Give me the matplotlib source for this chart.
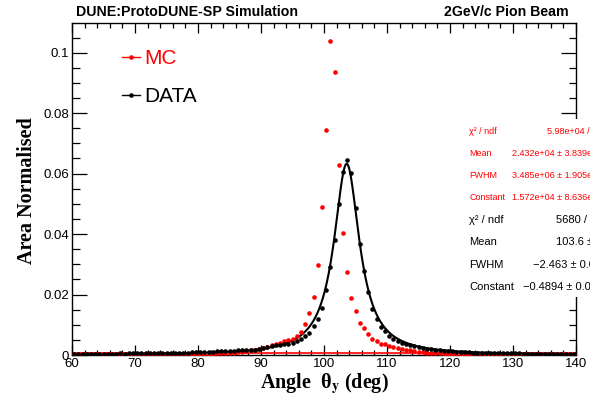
import numpy as np
import matplotlib
matplotlib.use("Agg")
import matplotlib.pyplot as plt
from matplotlib.lines import Line2D
from matplotlib.patches import Rectangle
from matplotlib.ticker import MultipleLocator, FuncFormatter

# histogram: 120 bins between 60 and 140 deg
bin_lo, bin_hi, n_bins = 60, 140, 120

mc_vals = [
    0.0002, 0.0002, 0.0002, 0.0002, 0.0002, 0.0002, 0.0002, 0.0002, 0.0002, 0.0002,
    0.0002, 0.0002, 0.0002, 0.0002, 0.0002, 0.0002, 0.0002, 0.0002, 0.0002, 0.0002,
    0.0002, 0.0002, 0.0002, 0.0002, 0.0002, 0.0002, 0.0003, 0.0002, 0.0003, 0.0003,
    0.0003, 0.0003, 0.0004, 0.0004, 0.0005, 0.0005, 0.0006, 0.0007, 0.0008, 0.0009,
    0.0010, 0.0012, 0.0015, 0.0017, 0.0020, 0.0024, 0.0028, 0.0032, 0.0036, 0.0040,
    0.0045, 0.0049, 0.0052, 0.0063, 0.0077, 0.0102, 0.0138, 0.0191, 0.0297, 0.0488,
    0.0745, 0.1040, 0.0936, 0.0630, 0.0403, 0.0275, 0.0190, 0.0146, 0.0105, 0.0090,
    0.0068, 0.0052, 0.0047, 0.0036, 0.0036, 0.0030, 0.0028, 0.0024, 0.0021, 0.0018,
    0.0015, 0.0013, 0.0011, 0.0009, 0.0008, 0.0007, 0.0006, 0.0005, 0.0004, 0.0004,
    0.0003, 0.0003, 0.0003, 0.0002, 0.0002, 0.0002, 0.0002, 0.0002, 0.0001, 0.0001,
    0.0001, 0.0001, 0.0001, 0.0001, 0.0001, 0.0001, 0.0001, 0.0001, 0.0001, 0.0001,
    0.0001, 0.0001, 0.0001, 0.0001, 0.0001, 0.0001, 0.0001, 0.0001, 0.0001, 0.0001,
]

data_vals = [
    0.0003, 0.0003, 0.0003, 0.0003, 0.0004, 0.0003, 0.0004, 0.0004, 0.0004, 0.0004,
    0.0004, 0.0005, 0.0004, 0.0005, 0.0005, 0.0005, 0.0005, 0.0006, 0.0005, 0.0006,
    0.0006, 0.0006, 0.0007, 0.0007, 0.0007, 0.0008, 0.0008, 0.0008, 0.0009, 0.0009,
    0.0010, 0.0010, 0.0011, 0.0011, 0.0012, 0.0012, 0.0013, 0.0013, 0.0014, 0.0015,
    0.0015, 0.0016, 0.0017, 0.0018, 0.0020, 0.0024, 0.0028, 0.0030, 0.0034, 0.0034,
    0.0036, 0.0037, 0.0041, 0.0046, 0.0053, 0.0063, 0.0074, 0.0096, 0.0120, 0.0157,
    0.0216, 0.0291, 0.0380, 0.0498, 0.0605, 0.0645, 0.0602, 0.0487, 0.0367, 0.0279,
    0.0210, 0.0153, 0.0120, 0.0094, 0.0078, 0.0064, 0.0054, 0.0046, 0.0041, 0.0036,
    0.0032, 0.0029, 0.0026, 0.0023, 0.0021, 0.0019, 0.0017, 0.0015, 0.0014, 0.0013,
    0.0012, 0.0011, 0.0010, 0.0010, 0.0009, 0.0008, 0.0008, 0.0007, 0.0007, 0.0007,
    0.0006, 0.0006, 0.0006, 0.0005, 0.0005, 0.0005, 0.0005, 0.0004, 0.0004, 0.0004,
    0.0004, 0.0004, 0.0003, 0.0003, 0.0003, 0.0003, 0.0003, 0.0003, 0.0003, 0.0003,
]

# fit results shown in the stat boxes
data_mean, data_fwhm, data_const = 103.6, 2.463, 0.4894
mc_fit_level = 0.0007

mc_stats = [("χ² / ndf", "5.98e+04 / 117"),
            ("Mean", "2.432e+04 ± 3.839e+06"),
            ("FWHM", "3.485e+06 ± 1.905e+08"),
            ("Constant", "1.572e+04 ± 8.636e+05")]
data_stats = [("χ² / ndf", "5680 / 117"),
              ("Mean", "103.6 ± 0.0"),
              ("FWHM", "−2.463 ± 0.01"),
              ("Constant", "−0.4894 ± 0.002")]

edges = np.linspace(bin_lo, bin_hi, n_bins + 1)
centers = 0.5 * (edges[:-1] + edges[1:])

plt.rcParams['font.family'] = ['Liberation Sans', 'DejaVu Sans']
plt.rcParams['mathtext.fontset'] = 'stix'

fig = plt.figure(figsize=(5.9, 4.0), dpi=100)
W, H = 590.0, 400.0
ax = fig.add_axes([72 / W, 1 - 355 / H, (576 - 72) / W, (355 - 23) / H])

# fits
xf = np.linspace(bin_lo, bin_hi, 800)
lor = data_const / np.pi * data_fwhm / ((xf - data_mean) ** 2 + data_fwhm ** 2)
ax.plot(xf, lor, color='black', lw=1.5, zorder=3)
ax.plot([bin_lo, bin_hi], [mc_fit_level, mc_fit_level], color='red', lw=1.2, zorder=2)

# points
ax.plot(centers, mc_vals, 'o', color='red', ms=3.3, mew=0, zorder=4)
ax.plot(centers, data_vals, 'o', color='black', ms=3.3, mew=0, zorder=5)

ax.set_xlim(bin_lo, bin_hi)
ax.set_ylim(0, 0.1098)
ax.xaxis.set_major_locator(MultipleLocator(10))
ax.xaxis.set_minor_locator(MultipleLocator(2))
ax.yaxis.set_major_locator(MultipleLocator(0.02))
ax.yaxis.set_minor_locator(MultipleLocator(0.005))
ax.yaxis.set_major_formatter(FuncFormatter(lambda v, p: "%g" % round(v, 4)))
ax.tick_params(axis='both', which='both', direction='in', top=True, right=True,
               labelsize=9.5, width=0.9, color='black')
ax.tick_params(axis='x', which='major', length=7.2, pad=2.5)
ax.tick_params(axis='x', which='minor', length=3.6)
ax.tick_params(axis='y', which='major', length=10.8, pad=2)
ax.tick_params(axis='y', which='minor', length=5.4)
for s in ax.spines.values():
    s.set_linewidth(1.0)

# axis titles (serif bold like ROOT)
fig.text(324 / W, 1 - 384 / H, "Angle  θ$_{\\mathbf{y}}$ (deg)", ha='center', va='center',
         family='Liberation Serif', weight='bold', fontsize=14.5)
fig.text(27 / W, 1 - 191 / H, "Area Normalised", ha='center', va='center', rotation=90,
         family='Liberation Serif', weight='bold', fontsize=14.5)

# header
fig.text(76 / W, 1 - 12 / H, "DUNE:ProtoDUNE-SP Simulation", ha='left', va='center',
         weight='bold', fontsize=10.2)
fig.text(569 / W, 1 - 12 / H, "2GeV/c Pion Beam", ha='right', va='center',
         weight='bold', fontsize=10.2)

# legend
handles = [Line2D([], [], color='red', marker='o', ms=3.3, mew=0, lw=1.0),
           Line2D([], [], color='black', marker='o', ms=3.3, mew=0, lw=1.0)]
ax.legend(handles, ["MC", "DATA"], loc='upper left', bbox_to_anchor=(122 / W, 1 - 49 / H),
          bbox_transform=fig.transFigure, frameon=False, fontsize=15, handlelength=0.85,
          handletextpad=0.2, borderpad=0, borderaxespad=0, labelspacing=0.92,
          labelcolor=['red', 'black'])

# white stat box covering the right edge of the frame
fig.patches.append(Rectangle((465 / W, 1 - 297 / H), 130 / W, 178 / H,
                             transform=fig.transFigure, facecolor='white',
                             edgecolor='none', zorder=10))

# stat boxes (cut at the right edge as in the original)
mc_val_x = [547, 512, 512, 512]
for k, (lab, val) in enumerate(mc_stats):
    y = 1 - (132 + 22 * k) / H
    fig.text(469 / W, y, lab, ha='left', va='center', color='red', fontsize=6.5, zorder=11)
    fig.text(mc_val_x[k] / W, y, val, ha='left', va='center', color='red', fontsize=6.5,
             zorder=11)
data_val_x = [556, 556, 533, 523]
for k, (lab, val) in enumerate(data_stats):
    y = 1 - (220 + 22.3 * k) / H
    fig.text(469 / W, y, lab, ha='left', va='center', color='black', fontsize=8, zorder=11)
    fig.text(data_val_x[k] / W, y, val, ha='left', va='center', color='black', fontsize=8,
             zorder=11)

fig.savefig("out.png", dpi=100)
